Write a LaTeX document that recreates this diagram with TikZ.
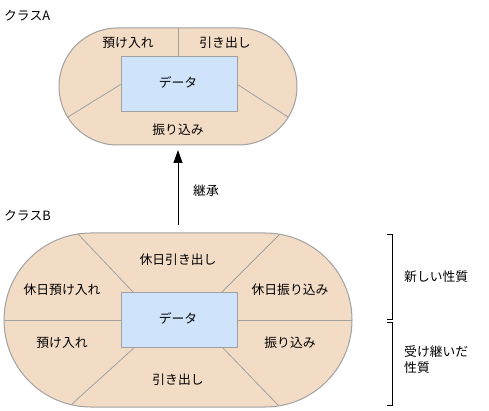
\documentclass[tikz,border=0pt]{standalone}
\usepackage{fontspec}
\setmainfont{Noto Sans CJK JP}
\usetikzlibrary{arrows.meta}
\definecolor{peach}{HTML}{F3DCC6}
\definecolor{databox}{HTML}{CFE4FA}
\definecolor{edgegray}{HTML}{A0A0A0}
\tikzset{
  lbl/.style={font=\fontsize{12.8}{15}\selectfont, inner sep=0pt},
  divider/.style={draw=edgegray, line width=0.8pt},
  databoxstyle/.style={draw=edgegray, fill=databox, line width=1pt},
  stadium/.style={draw=edgegray, fill=peach, line width=1pt},
  brk/.style={draw=black, line width=0.8pt}
}
\begin{document}
\begin{tikzpicture}[x=1pt,y=-1pt]
\useasboundingbox (0,0) rectangle (489,411);
% ---------- Class A ----------
\node[lbl, anchor=west] (labA) at (4,16) {クラスA};
\draw[stadium, rounded corners=58.5pt] (59,28) rectangle (297,145);
\coordinate (Atop) at (178,28);
\coordinate (Al) at (68,117);
\coordinate (Ar) at (288,117);
\node[databoxstyle, minimum width=116pt, minimum height=55pt, inner sep=0pt] (dA) at (179,84.5) {};
\draw[divider] (Atop) -- (Atop |- dA.north);
\draw[divider] (Al) -- (dA.west);
\draw[divider] (Ar) -- (dA.east);
\node[lbl] (a1) at (128,43) {預け入れ};
\node[lbl] (a2) at (225,43) {引き出し};
\node[lbl] (a3) at (178,82) {データ};
\node[lbl] (a4) at (178,130) {振り込み};
% ---------- Arrow ----------
\coordinate (arrS) at (178,225);
\coordinate (arrE) at (178,150);
\draw[line width=1pt, -{Triangle[length=13pt,width=9pt]}] (arrS) -- (arrE);
\node[lbl] (inh) at (206,191) {継承};
% ---------- Class B ----------
\node[lbl, anchor=west] (labB) at (4,216) {クラスB};
\draw[stadium, rounded corners=87pt] (4,233) rectangle (352,407);
\node[databoxstyle, minimum width=116pt, minimum height=55pt, inner sep=0pt] (dB) at (179,319.5) {};
\coordinate (b1) at (78,234);
\coordinate (b2) at (280,234);
\coordinate (b3) at (4,320);
\coordinate (b4) at (352,320);
\coordinate (b5) at (72,404);
\coordinate (b6) at (278,405);
\coordinate (c1) at (133,292);
\coordinate (c2) at (222,292);
\coordinate (c5) at (135,347);
\coordinate (c6) at (222,347);
\draw[divider] (b1) -- (c1);
\draw[divider] (b2) -- (c2);
\draw[divider] (b3) -- (b3 -| dB.west);
\draw[divider] (b4) -- (b4 -| dB.east);
\draw[divider] (b5) -- (c5);
\draw[divider] (b6) -- (c6);
\node[lbl] (t1) at (178,260) {休日引き出し};
\node[lbl] (t2) at (62,290) {休日預け入れ};
\node[lbl] (t3) at (290,290) {休日振り込み};
\node[lbl] (t4) at (178,318) {データ};
\node[lbl] (t5) at (62,343) {預け入れ};
\node[lbl] (t6) at (290,343) {振り込み};
\node[lbl] (t7) at (178,380) {引き出し};
% ---------- Brackets ----------
\coordinate (k1) at (387,234);
\coordinate (k2) at (392,234);
\coordinate (k3) at (392,319);
\coordinate (k4) at (387,319);
\coordinate (m1) at (387,322);
\coordinate (m2) at (392,322);
\coordinate (m3) at (392,405);
\coordinate (m4) at (387,405);
\draw[brk] (k1) -- (k2) -- (k3) -- (k4);
\draw[brk] (m1) -- (m2) -- (m3) -- (m4);
\node[lbl, anchor=west] (n1) at (404,277) {新しい性質};
\node[lbl, anchor=north west, align=left, font=\fontsize{12.8}{16}\selectfont] (n2) at (404,345) {受け継いだ\\性質};
\end{tikzpicture}
\end{document}
